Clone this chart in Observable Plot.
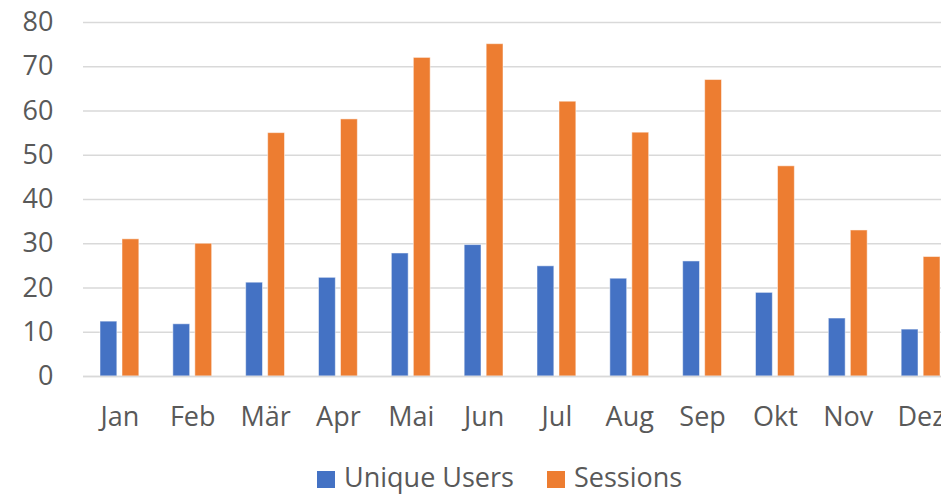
<!DOCTYPE html>
<html>
<head>
<meta charset="utf-8">
<script src="https://cdn.jsdelivr.net/npm/d3@7"></script>
<script src="https://cdn.jsdelivr.net/npm/@observablehq/plot@0.6"></script>
<style>
  html, body { margin: 0; padding: 0; background: #fff; overflow: hidden; width: 941px; height: 494px; }
  #wrap { position: relative; width: 941px; height: 494px; overflow: hidden; }
  #chart svg { max-width: none !important; height: 445px !important; display: block; }
  #legend { position: absolute; left: 317px; top: 462px; display: flex; align-items: center; line-height: 30px;
            font-family: 'Open Sans', sans-serif; font-size: 27px; color: #595959; white-space: nowrap; }
  .sw { width: 18px; height: 17px; display: inline-block; margin-right: 9px; position: relative; top: 2px; }
  .item { display: flex; align-items: center; margin-right: 33px; }
</style>
</head>
<body>
<div id="wrap"><div id="chart"></div><div id="legend"></div></div>
<script>
const months = ["Jan", "Feb", "Mär", "Apr", "Mai", "Jun", "Jul", "Aug", "Sep", "Okt", "Nov", "Dez"];
const uniqueUsers = [12.4, 11.8, 21.2, 22.3, 27.8, 29.7, 24.9, 22.1, 26.0, 18.9, 13.1, 10.6];
const sessions = [31.0, 30.0, 55.0, 58.1, 72.0, 75.1, 62.1, 55.1, 67.0, 47.5, 33.0, 27.0];
const yTicks = [0, 10, 20, 30, 40, 50, 60, 70, 80];
const seriesNames = ["Unique Users", "Sessions"];
const seriesColors = ["#4472C4", "#ED7D31"];

const usersData = months.map((m, i) => ({month: m, value: uniqueUsers[i]}));
const sessionsData = months.map((m, i) => ({month: m, value: sessions[i]}));

const chart = Plot.plot({
  width: 975,
  height: 445,
  marginLeft: 83,
  marginRight: 18,
  marginTop: 22,
  marginBottom: 69,
  style: {fontFamily: "'Open Sans', sans-serif", fontSize: "27px", color: "#595959", background: "#fff", maxWidth: "none"},
  x: {domain: months, padding: 0, round: false},
  y: {domain: [0, 80]},
  marks: [
    Plot.ruleY(yTicks, {stroke: "#D9D9D9", strokeWidth: 1.5}),
    Plot.barY(usersData, {x: "month", y: "value", fill: seriesColors[0], insetLeft: 28, insetRight: 28, dx: -11,
      stroke: "#ffffff", strokeOpacity: 0.5, strokeWidth: 1}),
    Plot.barY(sessionsData, {x: "month", y: "value", fill: seriesColors[1], insetLeft: 28, insetRight: 28, dx: 11,
      stroke: "#ffffff", strokeOpacity: 0.5, strokeWidth: 1}),
    Plot.ruleY([0], {stroke: "#D9D9D9", strokeWidth: 1.5}),
    Plot.axisX({tickSize: 0, tickPadding: 30, label: null}),
    Plot.axisY({ticks: yTicks, tickSize: 0, tickPadding: 30, label: null})
  ]
});
document.getElementById("chart").appendChild(chart);

const legend = document.getElementById("legend");
seriesNames.forEach((name, i) => {
  const item = document.createElement("div");
  item.className = "item";
  const sw = document.createElement("span");
  sw.className = "sw";
  sw.style.background = seriesColors[i];
  item.appendChild(sw);
  item.appendChild(document.createTextNode(name));
  legend.appendChild(item);
});
</script>
</body>
</html>
